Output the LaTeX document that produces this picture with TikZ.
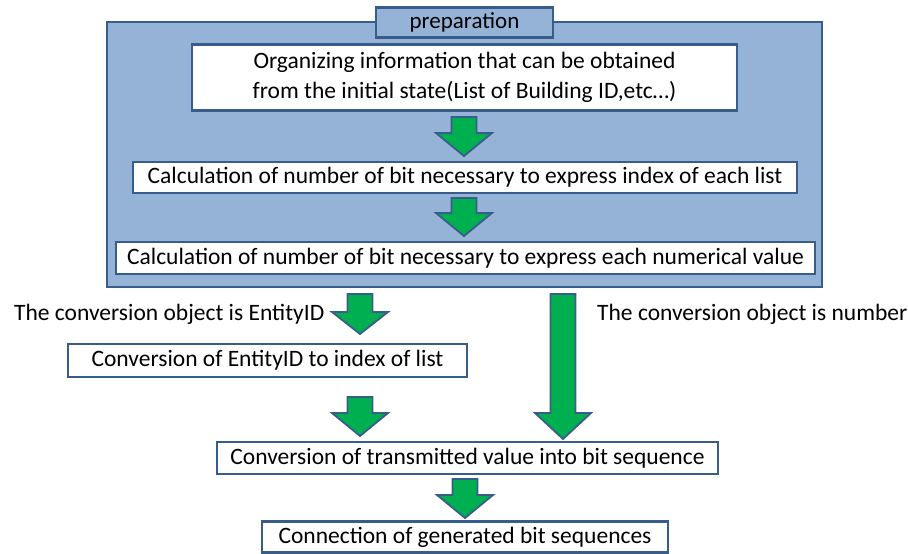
\documentclass[tikz,border=0pt]{standalone}
\usepackage{fontspec}
\setmainfont{Carlito}
\definecolor{prepfill}{RGB}{149,179,215}
\definecolor{edgeblue}{RGB}{56,93,138}
\definecolor{arrgreen}{RGB}{0,176,80}
\newcommand\blkarrow[4]{% x, ytop, ytip, headlength
  \draw[blkarr] (#1-12.5,#2) -- (#1+12.5,#2) -- (#1+12.5,#3-#4) -- (#1+28,#3-#4)
    -- (#1,#3) -- (#1-28,#3-#4) -- (#1-12.5,#3-#4) -- cycle;}
\begin{document}
\begin{tikzpicture}[x=1pt,y=-1pt,
  prepbox/.style={draw=edgeblue,line width=2.8pt,fill=prepfill},
  stepbox/.style={draw=edgeblue,line width=2.8pt,fill=white,inner sep=0pt,
    font=\fontsize{23.5}{29.5}\selectfont,align=center},
  lbl/.style={font=\fontsize{23.5}{28}\selectfont,inner sep=0pt},
  blkarr/.style={draw=edgeblue,line width=1.8pt,fill=arrgreen,line join=miter}]
\useasboundingbox (0,0) rectangle (908,554);
% preparation frame
\draw[prepbox] (107,22) rectangle (822,287);
\node[prepbox,minimum width=177pt,minimum height=30pt,inner sep=0pt,
  font=\fontsize{23}{28}\selectfont] (tab) at (464.5,22.5) {preparation};
% steps
\node[stepbox,minimum width=545pt,minimum height=66pt] (b1) at (464.5,77.5)
  {Organizing information that can be obtained\\from the initial state(List of Building ID,etc\dots)};
\node[stepbox,minimum width=664pt,minimum height=31pt] (b2) at (465,177.5)
  {Calculation of number of bit necessary to express index of each list};
\node[stepbox,minimum width=699pt,minimum height=32pt] (b3) at (465.5,258)
  {Calculation of number of bit necessary to express each numerical value};
\node[stepbox,minimum width=399pt,minimum height=33pt] (b4) at (267.5,360.5)
  {Conversion of EntityID to index of list};
\node[stepbox,minimum width=501pt,minimum height=32pt] (b5) at (467.5,458)
  {Conversion of transmitted value into bit sequence};
\node[stepbox,minimum width=406pt,minimum height=31pt] (b6) at (465,537)
  {Connection of generated bit sequences};
% labels
\node[lbl,anchor=west] (l1) at (14,314) {The conversion object is EntityID};
\node[lbl,anchor=west] (l2) at (597,314) {The conversion object is number};
% arrows
\blkarrow{464}{117}{156}{23}
\blkarrow{464}{198}{236}{23}
\blkarrow{360}{294}{334}{22}
\blkarrow{563}{294}{439}{26}
\blkarrow{360}{397}{436}{23}
\blkarrow{465}{479}{518}{23}
\end{tikzpicture}
\end{document}
